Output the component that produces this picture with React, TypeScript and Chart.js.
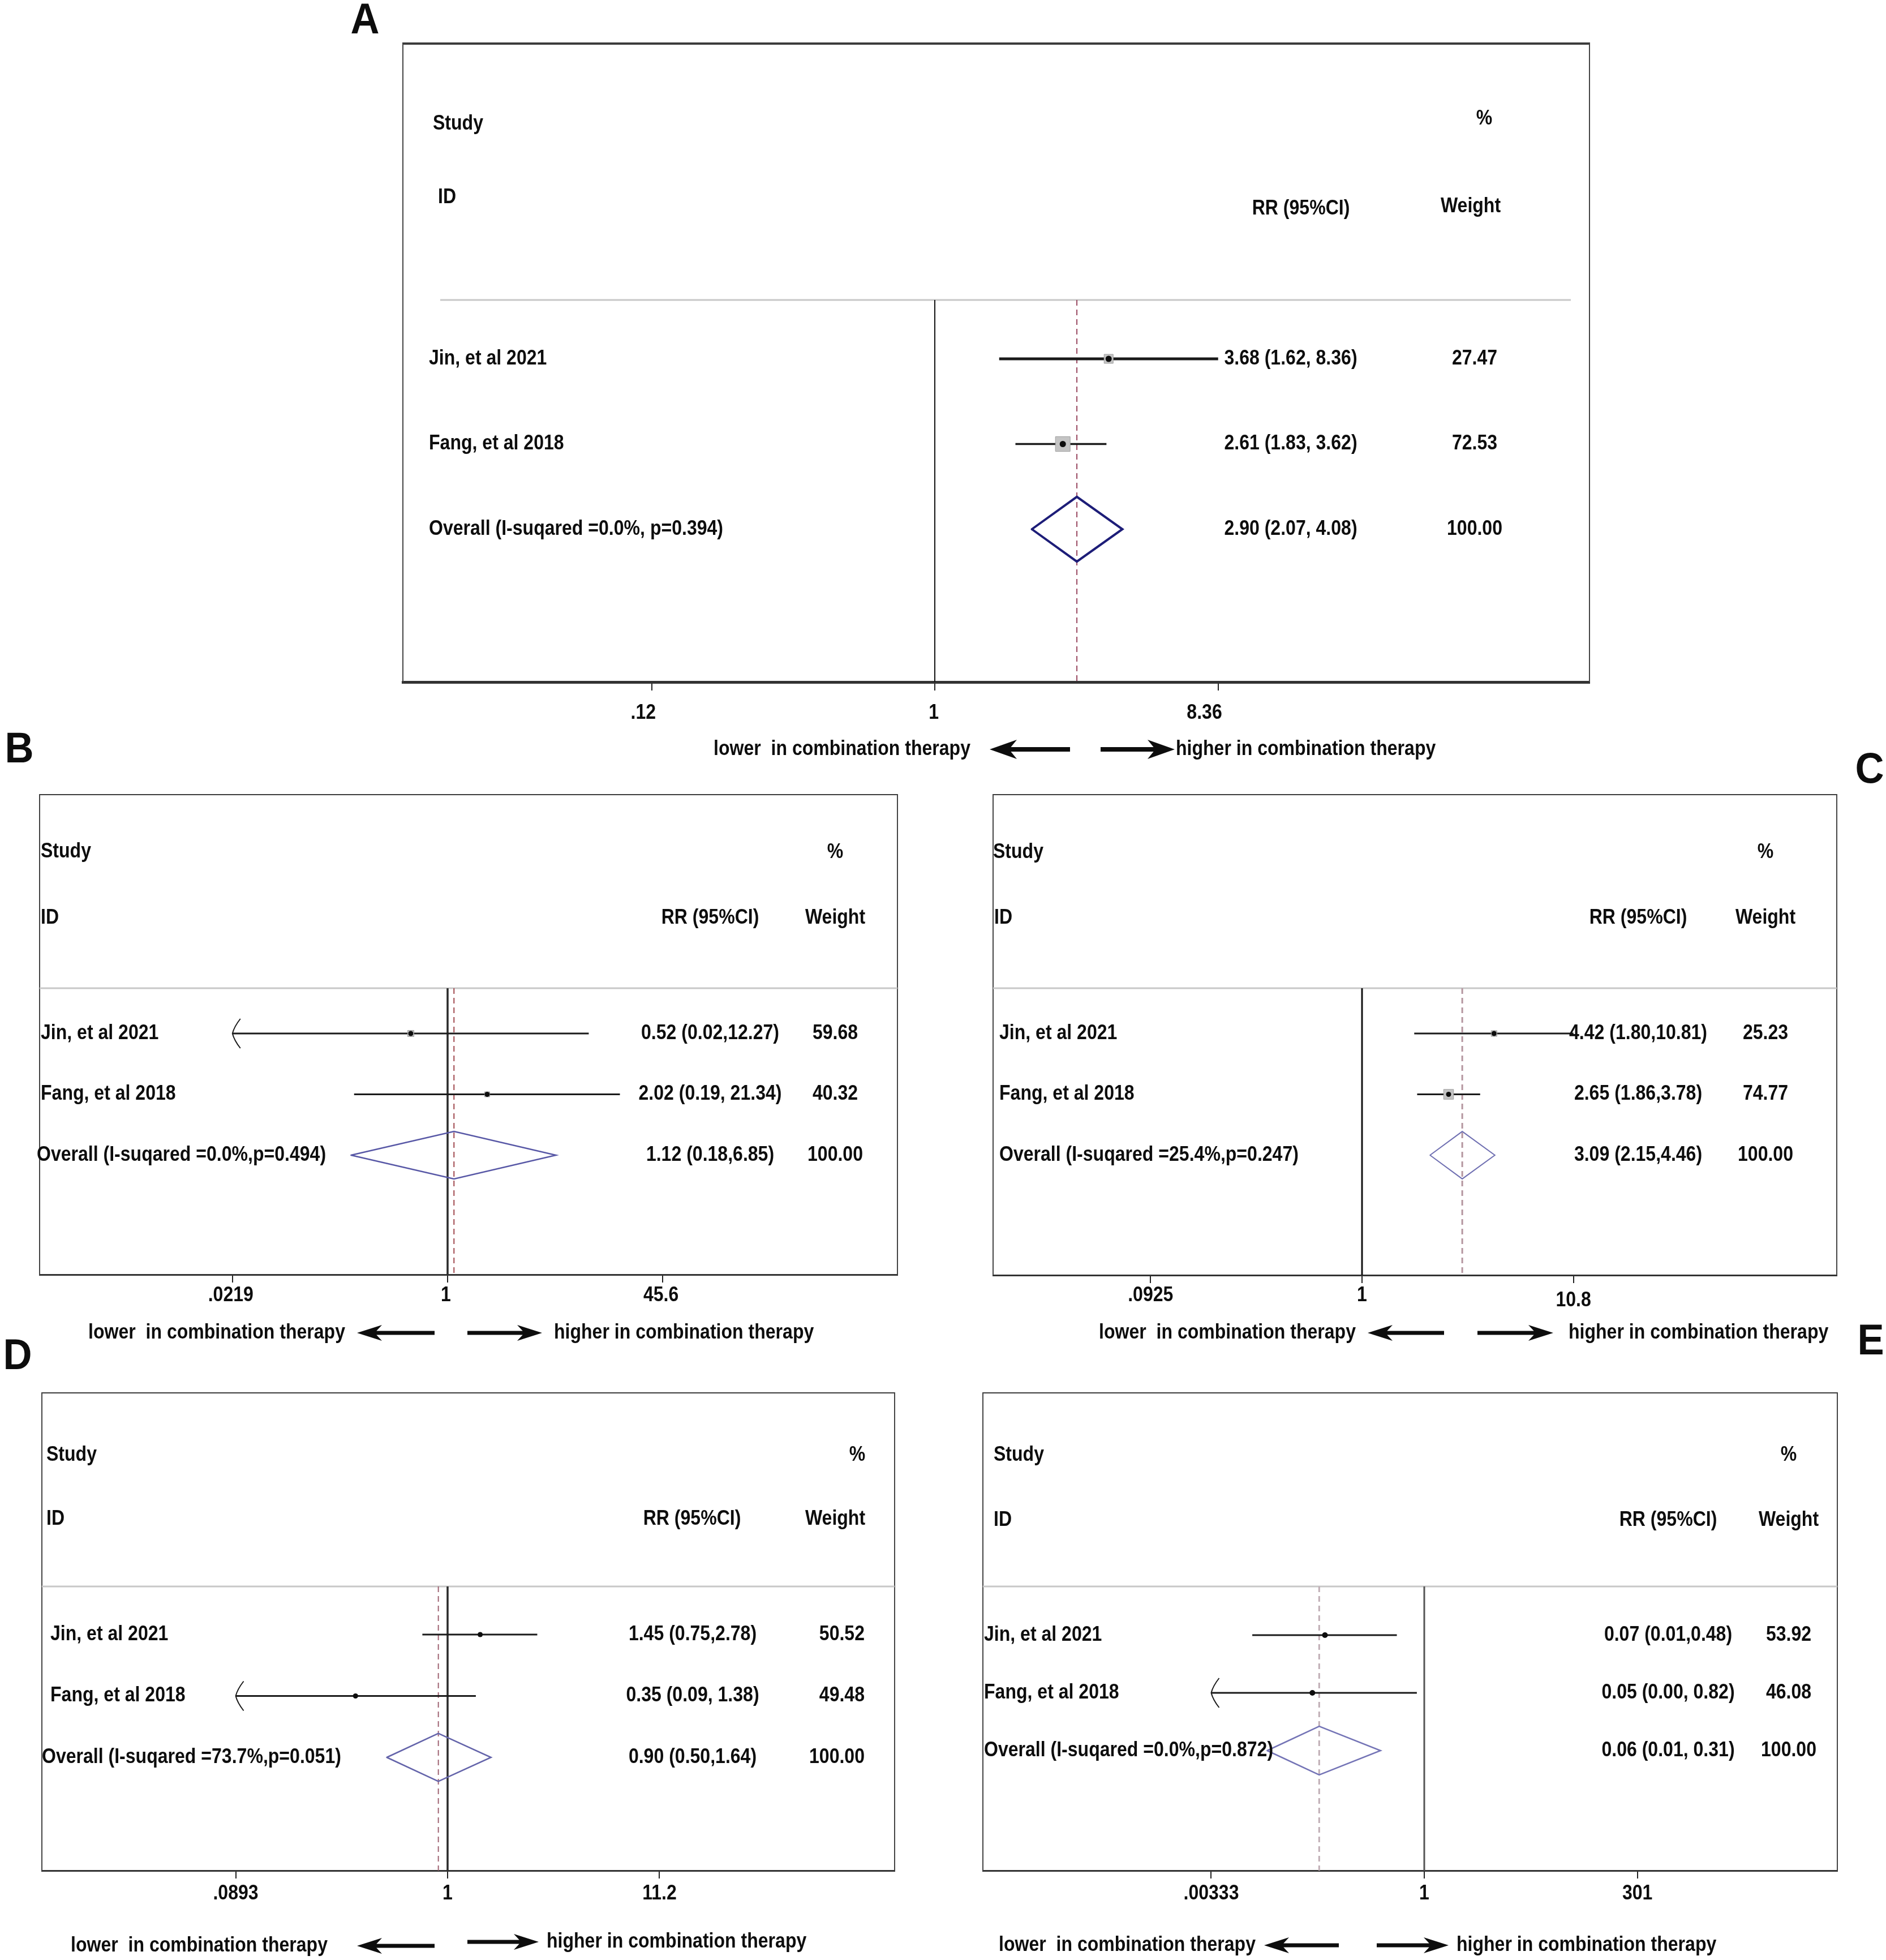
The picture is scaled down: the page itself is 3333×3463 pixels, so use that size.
import React, { useEffect, useRef } from 'react';
import { Chart, registerables } from 'chart.js';

Chart.register(...registerables);

const FONT = '"Liberation Sans", Arial, Helvetica, sans-serif';

// ---------------- data ----------------
const studyNames = ['Jin, et al 2021', 'Fang, et al 2018'];

const aOverall = 'Overall (I-suqared =0.0%, p=0.394)';
const aEst = [3.68, 2.61, 2.9];
const aLow = [1.62, 1.83, 2.07];
const aHigh = [8.36, 3.62, 4.08];
const aRR = ['3.68 (1.62, 8.36)', '2.61 (1.83, 3.62)', '2.90 (2.07, 4.08)'];
const aWeight = [27.47, 72.53, 100.0];
const aTicks = [0.12, 1, 8.36];
const aTickLabels = ['.12', '1', '8.36'];

const bOverall = 'Overall (I-suqared =0.0%,p=0.494)';
const bEst = [0.52, 2.02, 1.12];
const bLow = [0.0219, 0.19, 0.18];
const bHigh = [12.27, 21.34, 6.85];
const bRR = ['0.52 (0.02,12.27)', '2.02 (0.19, 21.34)', '1.12 (0.18,6.85)'];
const bWeight = [59.68, 40.32, 100.0];
const bTicks = [0.0219, 1, 45.6];
const bTickLabels = ['.0219', '1', '45.6'];

const cOverall = 'Overall (I-suqared =25.4%,p=0.247)';
const cEst = [4.42, 2.65, 3.09];
const cLow = [1.8, 1.86, 2.15];
const cHigh = [10.81, 3.78, 4.46];
const cRR = ['4.42 (1.80,10.81)', '2.65 (1.86,3.78)', '3.09 (2.15,4.46)'];
const cWeight = [25.23, 74.77, 100.0];
const cTicks = [0.0925, 1, 10.8];
const cTickLabels = ['.0925', '1', '10.8'];

const dOverall = 'Overall (I-suqared =73.7%,p=0.051)';
const dEst = [1.45, 0.35, 0.9];
const dLow = [0.75, 0.0893, 0.5];
const dHigh = [2.78, 1.38, 1.64];
const dRR = ['1.45 (0.75,2.78)', '0.35 (0.09, 1.38)', '0.90 (0.50,1.64)'];
const dWeight = [50.52, 49.48, 100.0];
const dTicks = [0.0893, 1, 11.2];
const dTickLabels = ['.0893', '1', '11.2'];

const eOverall = 'Overall (I-suqared =0.0%,p=0.872)';
const eEst = [0.07, 0.05, 0.06];
const eLow = [0.01, 0.00333, 0.0149];
const eHigh = [0.48, 0.82, 0.31];
const eRR = ['0.07 (0.01,0.48)', '0.05 (0.00, 0.82)', '0.06 (0.01, 0.31)'];
const eWeight = [53.92, 46.08, 100.0];
const eTicks = [0.00333, 1, 301];
const eTickLabels = ['.00333', '1', '301'];

const lowerText = 'lower  in combination therapy';
const higherText = 'higher in combination therapy';

// ---------------- layout (page pixels) ----------------
const layoutA = {
  canvas: { x: 600, y: 0, w: 2300, h: 1370 },
  box: { l: 712, t: 77, r: 2809, b: 1205 },
  xOne: 1652, k: 235.8, rowPx: [634, 935],
  headerLineY: 530, headerLineX: [778, 2776],
  hdr: { study: [765, 219], id: [774, 349], pct: [2623, 210], rr: [2299, 369], w: [2599, 365] },
  labelX: 758, overallX: 758, rrX: 2281, wX: 2606, wAlign: 'center',
  tickLen: 15, tickLabelY: 1260, tickAlign: 'right', tickDx: 7, tickDy: [0, 0, 0],
  dir: { y: [1324, 1324], lowerRight: 1715, la: [1749, 1891], ra: [1945, 2076], higherLeft: 2078, hl: 48, hh: 17, sw: 8 },
  letter: ['A', 645, 38],
  topBorder: 4, sideBorder: 2, axisBorder: 5,
  ciWidth: [5, 3.5], boxScale: 3.05, dotR: 5.5,
  dH: 0.38, dColor: '#1d1d78', dWidth: 4,
  nullColor: '#111111', nullWidth: 2, refColor: '#9a4a62', refWidth: 2,
};
const layoutB = {
  canvas: { x: 0, y: 1290, w: 1660, h: 1105 },
  box: { l: 70, t: 1404, r: 1586, b: 2252 },
  xOne: 791, k: 99.5, rowPx: [1826, 2041],
  headerLineY: 1746, headerLineX: [70, 1586],
  hdr: { study: [72, 1505], id: [72, 1622], pct: [1476, 1506], rr: [1255, 1622], w: [1476, 1622] },
  labelX: 72, overallX: 65, rrX: 1255, wX: 1476, wAlign: 'center',
  tickLen: 14, tickLabelY: 2289, tickAlign: 'center', tickDx: -3, tickDy: [0, 0, 0],
  dir: { y: [2355, 2355], lowerRight: 610, la: [631, 768], ra: [826, 958], higherLeft: 979, hl: 44, hh: 14, sw: 7 },
  letter: ['B', 34, 1326],
  topBorder: 2, sideBorder: 2, axisBorder: 3,
  ciWidth: [3, 3], boxScale: 1.42, dotR: 4.5,
  dH: 0.39, dColor: '#5858a6', dWidth: 2.5,
  nullColor: '#2a2a2a', nullWidth: 3.5, refColor: '#a0484e', refWidth: 2,
};
const layoutC = {
  canvas: { x: 1660, y: 1290, w: 1673, h: 1105 },
  box: { l: 1755, t: 1404, r: 3246, b: 2253 },
  xOne: 2407, k: 157, rowPx: [1826, 2041],
  headerLineY: 1746, headerLineX: [1755, 3246],
  hdr: { study: [1755, 1506], id: [1757, 1622], pct: [3120, 1506], rr: [2895, 1622], w: [3120, 1622] },
  labelX: 1766, overallX: 1766, rrX: 2895, wX: 3120, wAlign: 'center',
  tickLen: 14, tickLabelY: 2289, tickAlign: 'center', tickDx: 0, tickDy: [0, 0, 9],
  dir: { y: [2355, 2355], lowerRight: 2396, la: [2417, 2552], ra: [2611, 2745], higherLeft: 2772, hl: 44, hh: 14, sw: 7 },
  letter: ['C', 3304, 1362],
  topBorder: 2, sideBorder: 2, axisBorder: 3,
  ciWidth: [3, 3], boxScale: 2.02, dotR: 4.5,
  dH: 0.39, dColor: '#7070b2', dWidth: 2,
  nullColor: '#111111', nullWidth: 3, refColor: '#b4959f', refWidth: 3,
};
const layoutD = {
  canvas: { x: 0, y: 2360, w: 1660, h: 1103 },
  box: { l: 74, t: 2461, r: 1581, b: 3305 },
  xOne: 791, k: 155, rowPx: [2888, 3105],
  headerLineY: 2803, headerLineX: [74, 1581],
  hdr: { study: [82, 2571], id: [82, 2684], pct: [1515, 2571], rr: [1223, 2684], w: [1476, 2684] },
  labelX: 89, overallX: 74, rrX: 1224, wX: 1528, wAlign: 'right',
  tickLen: 14, tickLabelY: 3346, tickAlign: 'center', tickDx: 0, tickDy: [0, 0, 0],
  dir: { y: [3438, 3431], lowerRight: 579, la: [631, 768], ra: [826, 952], higherLeft: 966, hl: 44, hh: 14, sw: 7 },
  letter: ['D', 31, 2398],
  topBorder: 2, sideBorder: 2, axisBorder: 3,
  ciWidth: [3, 3], boxScale: 0.9, dotR: 4.5,
  dH: 0.39, dColor: '#6464aa', dWidth: 2.5,
  nullColor: '#2a2a2a', nullWidth: 3.5, refColor: '#a06474', refWidth: 2,
};
const layoutE = {
  canvas: { x: 1660, y: 2330, w: 1673, h: 1133 },
  box: { l: 1737, t: 2461, r: 3247, b: 3305 },
  xOne: 2517, k: 66, rowPx: [2889, 3093],
  headerLineY: 2803, headerLineX: [1737, 3247],
  hdr: { study: [1756, 2571], id: [1756, 2686], pct: [3161, 2571], rr: [2948, 2686], w: [3161, 2686] },
  labelX: 1739, overallX: 1739, rrX: 2948, wX: 3161, wAlign: 'center',
  tickLen: 14, tickLabelY: 3346, tickAlign: 'center', tickDx: 0, tickDy: [0, 0, 0],
  dir: { y: [3437, 3437], lowerRight: 2219, la: [2234, 2366], ra: [2433, 2560], higherLeft: 2574, hl: 44, hh: 14, sw: 7 },
  letter: ['E', 3306, 2372],
  topBorder: 2, sideBorder: 2, axisBorder: 3,
  ciWidth: [3, 3], boxScale: 0.9, dotR: 5,
  dH: 0.42, dColor: '#7474b6', dWidth: 2.5,
  nullColor: '#555555', nullWidth: 3, refColor: '#c0aeb6', refWidth: 3,
};

const PANELS = [
  { id: 'A', overall: aOverall, est: aEst, low: aLow, high: aHigh, rr: aRR, weight: aWeight, ticks: aTicks, tickLabels: aTickLabels, layout: layoutA },
  { id: 'B', overall: bOverall, est: bEst, low: bLow, high: bHigh, rr: bRR, weight: bWeight, ticks: bTicks, tickLabels: bTickLabels, layout: layoutB },
  { id: 'C', overall: cOverall, est: cEst, low: cLow, high: cHigh, rr: cRR, weight: cWeight, ticks: cTicks, tickLabels: cTickLabels, layout: layoutC },
  { id: 'D', overall: dOverall, est: dEst, low: dLow, high: dHigh, rr: dRR, weight: dWeight, ticks: dTicks, tickLabels: dTickLabels, layout: layoutD },
  { id: 'E', overall: eOverall, est: eEst, low: eLow, high: eHigh, rr: eRR, weight: eWeight, ticks: eTicks, tickLabels: eTickLabels, layout: layoutE },
];

// ---------------- drawing helpers ----------------
const TEXT_SIZE = 36;
const TEXT_SX = 0.89;

function drawText(ctx: CanvasRenderingContext2D, text: string, x: number, y: number, align: CanvasTextAlign, size = TEXT_SIZE, sx = TEXT_SX) {
  ctx.save();
  ctx.font = `bold ${size}px ${FONT}`;
  ctx.fillStyle = '#0d0d0d';
  ctx.textBaseline = 'middle';
  ctx.textAlign = align;
  ctx.translate(x, y);
  ctx.scale(sx, 1);
  ctx.fillText(text, 0, 0);
  ctx.restore();
}

function drawBigArrow(ctx: CanvasRenderingContext2D, x1: number, x2: number, y: number, left: boolean, hl: number, hh: number, sw: number) {
  ctx.save();
  ctx.fillStyle = '#0d0d0d';
  ctx.beginPath();
  if (left) {
    ctx.moveTo(x1, y);
    ctx.lineTo(x1 + hl, y - hh);
    ctx.lineTo(x1 + hl * 0.78, y - sw / 2);
    ctx.lineTo(x2, y - sw / 2);
    ctx.lineTo(x2, y + sw / 2);
    ctx.lineTo(x1 + hl * 0.78, y + sw / 2);
    ctx.lineTo(x1 + hl, y + hh);
  } else {
    ctx.moveTo(x2, y);
    ctx.lineTo(x2 - hl, y - hh);
    ctx.lineTo(x2 - hl * 0.78, y - sw / 2);
    ctx.lineTo(x1, y - sw / 2);
    ctx.lineTo(x1, y + sw / 2);
    ctx.lineTo(x2 - hl * 0.78, y + sw / 2);
    ctx.lineTo(x2 - hl, y + hh);
  }
  ctx.closePath();
  ctx.fill();
  ctx.restore();
}

function buildChart(canvas: HTMLCanvasElement, P: any) {
  const L = P.layout;
  const ox = L.canvas.x;
  const oy = L.canvas.y;
  const axisH = L.tickLen;
  const unit = (L.rowPx[1] - L.rowPx[0]) / 2;
  const yMin = 1 - (L.rowPx[0] - L.box.t) / unit;
  const yMax = 3 + (L.box.b - L.rowPx[1]) / unit;
  const xMin = Math.exp((L.box.l - L.xOne) / L.k);
  const xMax = Math.exp((L.box.r - L.xOne) / L.k);
  const headerVal = 1 + (L.headerLineY - L.rowPx[0]) / unit;
  const axisMin = P.ticks[0];
  const rows = [1, 2, 3];
  const studyIdx = [0, 1];
  const o = 2;

  const datasets: any[] = [];
  datasets.push({
    label: 'estimate',
    data: studyIdx.map((i) => ({ x: P.est[i], y: rows[i] })),
    pointStyle: 'circle', pointRadius: L.dotR, backgroundColor: '#0d0d0d', borderWidth: 0, order: 0,
  });
  datasets.push({
    label: 'weight box',
    data: studyIdx.map((i) => ({ x: P.est[i], y: rows[i] })),
    pointStyle: 'rect',
    pointRadius: studyIdx.map((i) => (L.boxScale * Math.sqrt(P.weight[i])) / Math.SQRT2),
    backgroundColor: '#c4c4c4', borderColor: '#9e9e9e', borderWidth: 1, order: 1,
  });
  datasets.push({
    label: 'overall',
    showLine: true,
    data: [
      { x: P.low[o], y: rows[o] },
      { x: P.est[o], y: rows[o] - L.dH },
      { x: P.high[o], y: rows[o] },
      { x: P.est[o], y: rows[o] + L.dH },
      { x: P.low[o], y: rows[o] },
    ],
    borderColor: L.dColor, borderWidth: L.dWidth, borderJoinStyle: 'miter', borderCapStyle: 'round',
    pointRadius: 0, fill: false, order: 2,
  });
  studyIdx.forEach((i) => {
    datasets.push({
      label: 'ci ' + i,
      showLine: true,
      data: [
        { x: Math.max(P.low[i], axisMin), y: rows[i] },
        { x: P.high[i], y: rows[i] },
      ],
      borderColor: '#1a1a1a', borderWidth: L.ciWidth[i], pointRadius: 0, order: 3,
    });
  });
  datasets.push({
    label: 'overall effect',
    showLine: true,
    data: [
      { x: P.est[o], y: headerVal },
      { x: P.est[o], y: yMax },
    ],
    borderColor: L.refColor, borderWidth: L.refWidth, borderDash: [10, 7], pointRadius: 0, order: 4,
  });
  datasets.push({
    label: 'no effect',
    showLine: true,
    data: [
      { x: 1, y: headerVal },
      { x: 1, y: yMax },
    ],
    borderColor: L.nullColor, borderWidth: L.nullWidth, pointRadius: 0, order: 5,
  });

  const decor = {
    id: 'forestDecor' + P.id,
    beforeDatasetsDraw(chart: any) {
      const ctx = chart.ctx as CanvasRenderingContext2D;
      const ca = chart.chartArea;
      const ys = chart.scales.y;
      ctx.save();
      ctx.strokeStyle = '#3c3c3c';
      ctx.lineWidth = L.topBorder;
      ctx.beginPath();
      ctx.moveTo(ca.left - L.sideBorder / 2, ca.top);
      ctx.lineTo(ca.right + L.sideBorder / 2, ca.top);
      ctx.stroke();
      ctx.strokeStyle = '#444444';
      ctx.lineWidth = L.sideBorder;
      ctx.beginPath();
      ctx.moveTo(ca.left, ca.top);
      ctx.lineTo(ca.left, ca.bottom);
      ctx.moveTo(ca.right, ca.top);
      ctx.lineTo(ca.right, ca.bottom);
      ctx.stroke();
      const hy = ys.getPixelForValue(headerVal);
      ctx.strokeStyle = '#c8c8c8';
      ctx.lineWidth = 3;
      ctx.beginPath();
      ctx.moveTo(L.headerLineX[0] - ox, hy);
      ctx.lineTo(L.headerLineX[1] - ox, hy);
      ctx.stroke();
      ctx.restore();
    },
    afterDatasetsDraw(chart: any) {
      const ctx = chart.ctx as CanvasRenderingContext2D;
      const xs = chart.scales.x;
      const ys = chart.scales.y;
      ctx.save();
      ctx.strokeStyle = '#1a1a1a';
      ctx.lineWidth = 2;
      studyIdx.forEach((i) => {
        if (P.low[i] <= axisMin * 1.0001) {
          const x = xs.getPixelForValue(axisMin);
          const y = ys.getPixelForValue(rows[i]);
          ctx.beginPath();
          ctx.moveTo(x + 14, y - 26);
          ctx.quadraticCurveTo(x + 3, y - 12, x, y);
          ctx.quadraticCurveTo(x + 3, y + 12, x + 14, y + 26);
          ctx.stroke();
        }
      });
      ctx.restore();
    },
    afterDraw(chart: any) {
      const ctx = chart.ctx as CanvasRenderingContext2D;
      const xs = chart.scales.x;
      const ys = chart.scales.y;
      const H = L.hdr;
      drawText(ctx, 'Study', H.study[0] - ox, H.study[1] - oy, 'left');
      drawText(ctx, 'ID', H.id[0] - ox, H.id[1] - oy, 'left');
      drawText(ctx, '%', H.pct[0] - ox, H.pct[1] - oy, 'center');
      drawText(ctx, 'RR (95%CI)', H.rr[0] - ox, H.rr[1] - oy, 'center');
      drawText(ctx, 'Weight', H.w[0] - ox, H.w[1] - oy, 'center');
      const labels = [studyNames[0], studyNames[1], P.overall];
      rows.forEach((r, i) => {
        const y = ys.getPixelForValue(r);
        drawText(ctx, labels[i], (i === o ? L.overallX : L.labelX) - ox, y, 'left');
        drawText(ctx, P.rr[i], L.rrX - ox, y, 'center');
        drawText(ctx, P.weight[i].toFixed(2), L.wX - ox, y, L.wAlign);
      });
      // tick labels, positioned by the x scale
      P.ticks.forEach((t: number, i: number) => {
        const x = xs.getPixelForValue(t) + L.tickDx;
        drawText(ctx, P.tickLabels[i], x, L.tickLabelY - oy + L.tickDy[i], L.tickAlign);
      });
      const D = L.dir;
      drawText(ctx, lowerText, D.lowerRight - ox, D.y[0] - oy, 'right');
      drawBigArrow(ctx, D.la[0] - ox, D.la[1] - ox, D.y[0] - oy, true, D.hl, D.hh, D.sw);
      drawBigArrow(ctx, D.ra[0] - ox, D.ra[1] - ox, D.y[1] - oy, false, D.hl, D.hh, D.sw);
      drawText(ctx, higherText, D.higherLeft - ox, D.y[1] - oy, 'left');
      drawText(ctx, L.letter[0], L.letter[1] - ox, L.letter[2] - oy, 'center', 76, 0.93);
    },
  };

  return new Chart(canvas, {
    type: 'scatter',
    data: { datasets },
    options: {
      animation: false,
      responsive: false,
      devicePixelRatio: 1,
      events: [],
      layout: {
        padding: {
          left: L.box.l - ox,
          top: L.box.t - oy,
          right: ox + L.canvas.w - L.box.r,
          bottom: oy + L.canvas.h - L.box.b - axisH,
        },
      },
      plugins: { legend: { display: false }, tooltip: { enabled: false }, title: { display: false } },
      scales: {
        x: {
          type: 'logarithmic',
          position: 'bottom',
          min: xMin,
          max: xMax,
          bounds: 'data',
          offset: false,
          afterBuildTicks: (scale: any) => {
            scale.ticks = P.ticks.map((v: number) => ({ value: v }));
          },
          grid: {
            display: true,
            drawOnChartArea: false,
            drawTicks: true,
            tickLength: L.tickLen,
            color: '#222222',
            lineWidth: 2,
          },
          border: { display: true, color: '#333333', width: L.axisBorder },
          ticks: {
            display: false,
            autoSkip: false,
            maxRotation: 0,
            minRotation: 0,
            callback: (_v: any, i: number) => P.tickLabels[i],
          },
        },
        y: {
          type: 'linear',
          display: false,
          reverse: true,
          min: yMin,
          max: yMax,
        },
      },
    },
    plugins: [decor],
  } as any);
}

function ForestPanel({ panel }: { panel: any }) {
  const ref = useRef<HTMLCanvasElement | null>(null);
  useEffect(() => {
    if (!ref.current) return;
    const chart = buildChart(ref.current, panel);
    return () => chart.destroy();
  }, [panel]);
  const c = panel.layout.canvas;
  return (
    <canvas
      ref={ref}
      width={c.w}
      height={c.h}
      style={{ position: 'absolute', left: c.x, top: c.y, width: c.w, height: c.h }}
    />
  );
}

export default function App() {
  return (
    <div style={{ position: 'absolute', left: 0, top: 0, width: 3333, height: 3463, background: '#ffffff', overflow: 'hidden' }}>
      {PANELS.map((p) => (
        <ForestPanel key={p.id} panel={p} />
      ))}
    </div>
  );
}
